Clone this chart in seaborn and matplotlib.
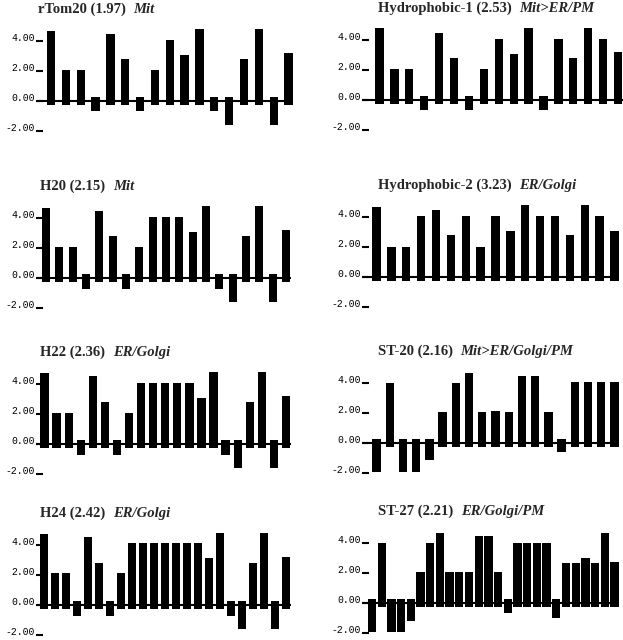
import matplotlib
matplotlib.use('Agg')
import matplotlib.pyplot as plt
import seaborn as sns

# Hydropathy profile values (one bar per residue window)
rtom20 = [4.7, 2.1, 2.1, -0.7, 4.5, 2.8, -0.7, 2.1, 4.1, 3.1, 4.8, -0.7, -1.6, 2.8, 4.8, -1.6, 3.2]
hydrophobic1 = [4.8, 2.1, 2.1, -0.7, 4.5, 2.8, -0.7, 2.1, 4.1, 3.1, 4.8, -0.7, 4.1, 2.8, 4.8, 4.1, 3.2]
h20 = [4.7, 2.1, 2.1, -0.7, 4.5, 2.8, -0.7, 2.1, 4.1, 4.1, 4.1, 3.1, 4.8, -0.7, -1.6, 2.8, 4.8, -1.6, 3.2]
hydrophobic2 = [4.7, 2.0, 2.0, 4.1, 4.5, 2.8, 4.1, 2.0, 4.1, 3.1, 4.8, 4.1, 4.1, 2.8, 4.8, 4.1, 3.1]
h22 = [4.7, 2.1, 2.1, -0.7, 4.5, 2.8, -0.7, 2.1, 4.1, 4.1, 4.1, 4.1, 4.1, 3.1, 4.8, -0.7, -1.6, 2.8,
       4.8, -1.6, 3.2]
st20 = [-1.9, 4.0, -1.9, -1.9, -1.15, 2.1, 4.0, 4.7, 2.1, 2.15, 2.1, 4.45, 4.45, 2.1, -0.6, 4.05, 4.05,
        4.05, 4.05]
h24 = [4.7, 2.1, 2.1, -0.7, 4.5, 2.8, -0.7, 2.1, 4.1, 4.1, 4.1, 4.1, 4.1, 4.1, 4.1, 3.1, 4.8, -0.7, -1.6,
       2.8, 4.8, -1.6, 3.2]
st27 = [-1.9, 4.0, -1.9, -1.9, -1.2, 2.05, 4.0, 4.7, 2.05, 2.1, 2.05, 4.45, 4.45, 2.05, -0.65, 4.0, 4.0,
        4.0, 4.0, -1.0, 2.7, 2.7, 3.0, 2.7, 4.7, 2.75]

names = ['rTom20', 'Hydrophobic-1', 'H20', 'Hydrophobic-2', 'H22', 'ST-20', 'H24', 'ST-27']
scores = ['1.97', '2.53', '2.15', '3.23', '2.36', '2.16', '2.42', '2.21']
locations = ['Mit', 'Mit>ER/PM', 'Mit', 'ER/Golgi', 'ER/Golgi', 'Mit>ER/Golgi/PM', 'ER/Golgi', 'ER/Golgi/PM']
profiles = [rtom20, hydrophobic1, h20, hydrophobic2, h22, st20, h24, st27]

ytick_vals = [-2, 0, 2, 4]
ytick_labels = ['-2.00', '0.00', '2.00', '4.00']

# layout in pixels: axis x, zero-line y, first bar centre, last bar centre, title x
layout = [
    (36, 101, 51, 288.5, 38),
    (362, 100, 379.5, 618, 378),
    (36, 278, 46, 286, 40),
    (362, 277, 376.5, 614.5, 378),
    (36, 444, 44.5, 286, 40),
    (362, 443, 376.5, 614.5, 378),
    (36, 605, 44.2, 286, 40),
    (362, 603, 372, 614.5, 378),
]

W, H = 623, 640
PX_PER_UNIT = 15.0
YMIN, YMAX = -2.2, 5.0
BAR_PX = 8.3
STUB = 0.28  # bars start a little past the zero line

sns.set_theme(style='white')
plt.rcParams['font.family'] = ['Liberation Serif', 'DejaVu Serif']

fig = plt.figure(figsize=(W / 100, H / 100), dpi=100)

for i in range(8):
    vals = profiles[i]
    n = len(vals)
    ax_x, zero_y, c0, c1, title_x = layout[i]
    slot = (c1 - c0) / (n - 1)
    right_px = c1 + BAR_PX / 2 + 0.5
    bottom_px = zero_y - YMIN * PX_PER_UNIT
    top_px = zero_y - YMAX * PX_PER_UNIT
    ax = fig.add_axes([ax_x / W, 1 - bottom_px / H, (right_px - ax_x) / W, (bottom_px - top_px) / H])

    sns.barplot(x=list(range(n)), y=vals, color='black', saturation=1, width=BAR_PX / slot,
                linewidth=0, ax=ax)
    for p in ax.patches:
        h = p.get_height()
        if h >= 0:
            p.set_y(-STUB)
            p.set_height(h + STUB)
        else:
            p.set_y(STUB)
            p.set_height(h - STUB)

    ax.axhline(0, color='black', lw=1.5, zorder=3)
    ax.set_xlim((ax_x - c0) / slot, (n - 1) + (right_px - c1) / slot)
    ax.set_ylim(YMIN, YMAX)
    ax.set_xticks([])
    ax.set_xlabel('')
    ax.set_ylabel('')
    ax.set_yticks(ytick_vals)
    ax.set_yticklabels(ytick_labels)
    ax.tick_params(axis='y', direction='in', length=5, width=1.5, pad=1, labelsize=7,
                   color='black', labelcolor='black', left=True)
    for lab in ax.get_yticklabels():
        lab.set_fontfamily('Liberation Mono')
        lab.set_va('baseline')
    for s in ax.spines.values():
        s.set_visible(False)

    # title: bold name + score, then bold italic localisation
    t1 = fig.text(title_x / W, 1 - (zero_y - 88) / H, f'{names[i]} ({scores[i]})',
                  fontsize=10.5, fontweight='bold', va='baseline', ha='left')
    ax.annotate(locations[i], xy=(1, 0), xycoords=t1, xytext=(5.5, 0),
                textcoords='offset points', fontsize=10.5, fontweight='bold',
                fontstyle='italic', va='bottom', ha='left', annotation_clip=False)

fig.savefig('out.png', dpi=100)
